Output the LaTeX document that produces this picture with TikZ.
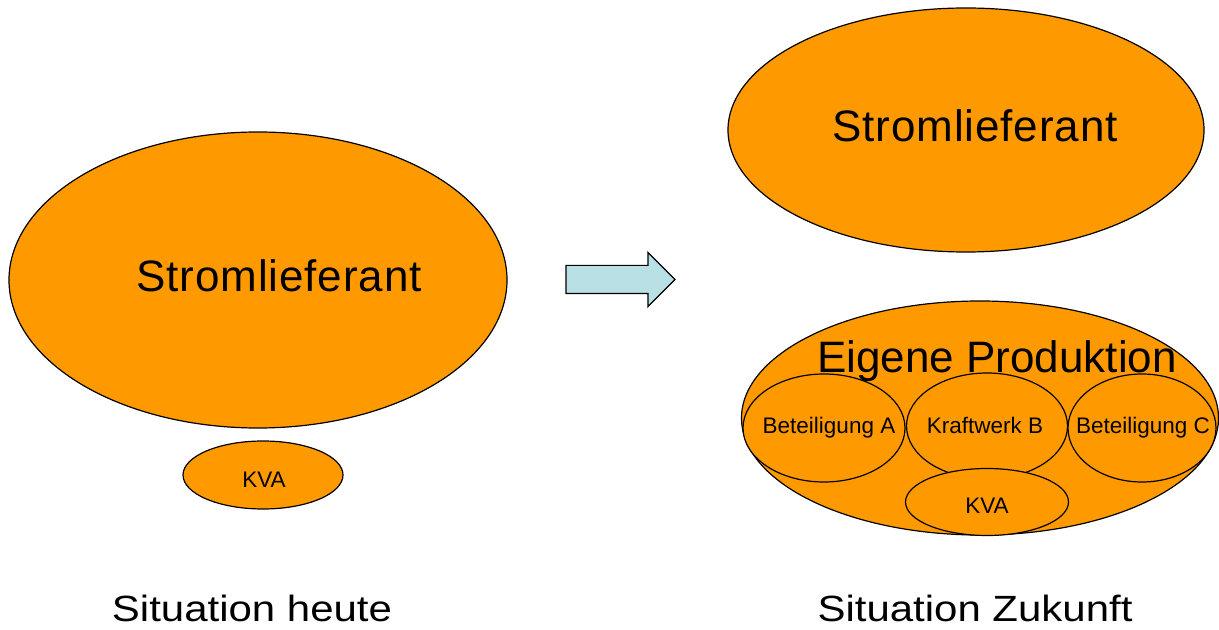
\documentclass[tikz,border=0pt]{standalone}
\usepackage{fontspec}
\setmainfont{Liberation Sans}
\newfontfamily\spacedfont[LetterSpace=2.0]{Liberation Sans}
\newfontfamily\widefont[FakeStretch=1.15]{Liberation Sans}
\usetikzlibrary{shapes.geometric,shapes.arrows}
\definecolor{korange}{RGB}{255,153,0}
\definecolor{karrow}{RGB}{185,224,228}
\tikzset{
  blob/.style={ellipse,draw=black,line width=0.6pt,fill=korange,inner sep=0pt},
  big/.style={font=\fontsize{22}{26}\selectfont,anchor=base,inner sep=0pt},
  small/.style={font=\fontsize{11.25}{13}\selectfont,anchor=base,inner sep=0pt},
  caption/.style={font=\widefont\fontsize{18.25}{22}\selectfont,anchor=base,inner sep=0pt},
  pfeil/.style={single arrow,draw=black,line width=0.6pt,fill=karrow,
                inner xsep=0pt,inner ysep=6.75pt,minimum height=54.5pt,
                minimum width=26.5pt,single arrow head extend=6.5pt},
}
\begin{document}
\begin{tikzpicture}[x=0.5pt,y=-0.5pt]
  \useasboundingbox (0,0) rectangle (1219,630);
  % heute
  \node[blob,minimum width=249pt,minimum height=148pt] (lief1) at (258,280) {};
  \node[blob,minimum width=80pt,minimum height=34pt] (kva1) at (263,475) {};
  \node[big,font=\spacedfont\fontsize{22}{26}\selectfont] (lief1t) at (279,292) {Stromlieferant};
  \node[small] (kva1t) at (264,487) {KVA};
  % Pfeil
  \node[pfeil] (arrow) at (613.5,279.5) {};
  % Zukunft
  \node[blob,minimum width=238pt,minimum height=122pt] (lief2) at (966,130) {};
  \node[big,font=\spacedfont\fontsize{22}{26}\selectfont] (lief2t) at (975,142) {Stromlieferant};
  \node[blob,minimum width=238.5pt,minimum height=117pt] (eigen) at (980,418) {};
  \node[blob,minimum width=81pt,minimum height=54pt] (betA) at (824,428) {};
  \node[blob,minimum width=80.5pt,minimum height=53pt] (kwB) at (987,426) {};
  \node[blob,minimum width=74pt,minimum height=54pt] (betC) at (1142,428) {};
  \node[blob,minimum width=81.5pt,minimum height=33.5pt] (kva2) at (987,502) {};
  \node[small] (betAt) at (829,433) {Beteiligung A};
  \node[small] (kwBt) at (985,433) {Kraftwerk B};
  \node[small] (betCt) at (1143,433) {Beteiligung C};
  \node[small] (kva2t) at (987,513) {KVA};
  \node[big] (eigent) at (997,372) {Eigene Produktion};
  % Beschriftung
  \node[caption] (heute) at (252,621) {Situation heute};
  \node[caption] (zukunft) at (975,621) {Situation Zukunft};
\end{tikzpicture}
\end{document}
